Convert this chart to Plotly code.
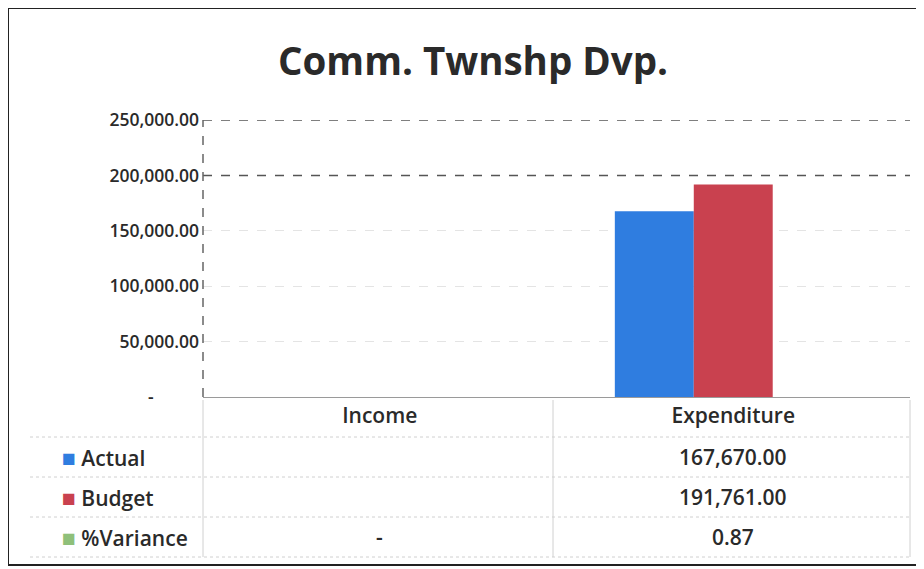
import plotly.graph_objects as go

categories = ["Income", "Expenditure"]
series_names = ["Actual", "Budget", "%Variance"]
actual = [None, 167670.00]
budget = [None, 191761.00]
variance = [0.0, 0.87]
colors = ["#2f7de0", "#c9414f", "#8fc07a"]
y_ticks = [0, 50000, 100000, 150000, 200000, 250000]
y_ticklabels = ["-" + "\u00a0" * 10, "50,000.00", "100,000.00", "150,000.00", "200,000.00", "250,000.00"]
title = "Comm. Twnshp Dvp."

FONT = "Open Sans"
TXT = "#2a2a2a"

def fmt(v):
    if v is None:
        return ""
    if v == 0:
        return "-"
    return f"{v:,.2f}"

fig = go.Figure()
for name, vals, col in zip(series_names, [actual, budget, variance], colors):
    fig.add_trace(go.Bar(x=categories, y=vals, name=name, marker_color=col,
                         marker_line_width=0, showlegend=False))

fig.update_layout(
    width=916, height=561,
    margin=dict(l=195, r=14, t=112, b=172),
    paper_bgcolor="white", plot_bgcolor="white",
    barmode="group", bargap=0.33, bargroupgap=0,
    font=dict(family=FONT, color=TXT),
    title=dict(text=f"<b>{title}</b>", x=(473-8)/916, xanchor="center",
               y=1-(62-8)/561, yanchor="middle", font=dict(size=38.5, color=TXT, family=FONT)),
    yaxis=dict(range=[0, 250000], tickvals=y_ticks, ticktext=y_ticklabels,
               tickfont=dict(size=17.5, color=TXT, weight=600), showgrid=True,
               gridcolor="#e4e4e4", griddash="dash", gridwidth=1,
               zeroline=False, showline=False,
               ticks="", ticklabelstandoff=3),
    xaxis=dict(tickfont=dict(size=21, color=TXT, weight=600), showline=True, linecolor="#9a9a9a",
               ticks="", showgrid=False),
)

def py(ypix):
    return (397-ypix)/277
def px(xpix):
    return (xpix-203)/707

# outer chart border (scan frame): top, left, bottom edges
frame = dict(color="#222222", width=2)
fig.add_shape(type="line", xref="paper", yref="paper", x0=px(8), x1=px(1000),
              y0=py(8), y1=py(8), line=frame)
fig.add_shape(type="line", xref="paper", yref="paper", x0=px(8), x1=px(8),
              y0=py(8), y1=py(565), line=frame)
fig.add_shape(type="line", xref="paper", yref="paper", x0=px(8), x1=px(1000),
              y0=py(565), y1=py(565), line=frame)

# darker dashed gridlines at top (as in the scan)
for v in y_ticks[-2:]:
    fig.add_shape(type="line", xref="paper", yref="y", x0=0, x1=1, y0=v, y1=v,
                  line=dict(color="#555555", width=1.5, dash="dash"))
# dashed left plot-area edge
fig.add_shape(type="line", xref="paper", yref="paper", x0=0, x1=0, y0=0, y1=1,
              line=dict(color="#666666", width=1.5, dash="dash"))

# data table grid
for xl in [203, 553, 910]:
    fig.add_shape(type="line", xref="paper", yref="paper", x0=px(xl), x1=px(xl),
                  y0=py(400), y1=py(557), line=dict(color="#d0d0d0", width=1))
for yl in [437, 477, 517, 557]:
    fig.add_shape(type="line", xref="paper", yref="paper", x0=px(30), x1=px(910),
                  y0=py(yl), y1=py(yl), line=dict(color="#d0d0d0", width=1, dash="dot"))

rows = [actual, budget, variance]
row_y = [457, 497, 537]
for name, vals, col, yp in zip(series_names, rows, colors, row_y):
    fig.add_annotation(xref="paper", yref="paper", x=px(60), y=py(yp),
                       text=f"<span style='color:{col};font-size:23px'>■</span> {name}",
                       showarrow=False, xanchor="left", yanchor="middle",
                       font=dict(size=21, color=TXT, family=FONT, weight=600))
    for cat, v in zip(categories, vals):
        t = fmt(v)
        if t:
            fig.add_annotation(xref="x", yref="paper", x=cat, y=py(yp), text=t,
                               showarrow=False, xanchor="center", yanchor="middle",
                               font=dict(size=21, color=TXT, family=FONT, weight=600))

fig.write_html("out.html")
